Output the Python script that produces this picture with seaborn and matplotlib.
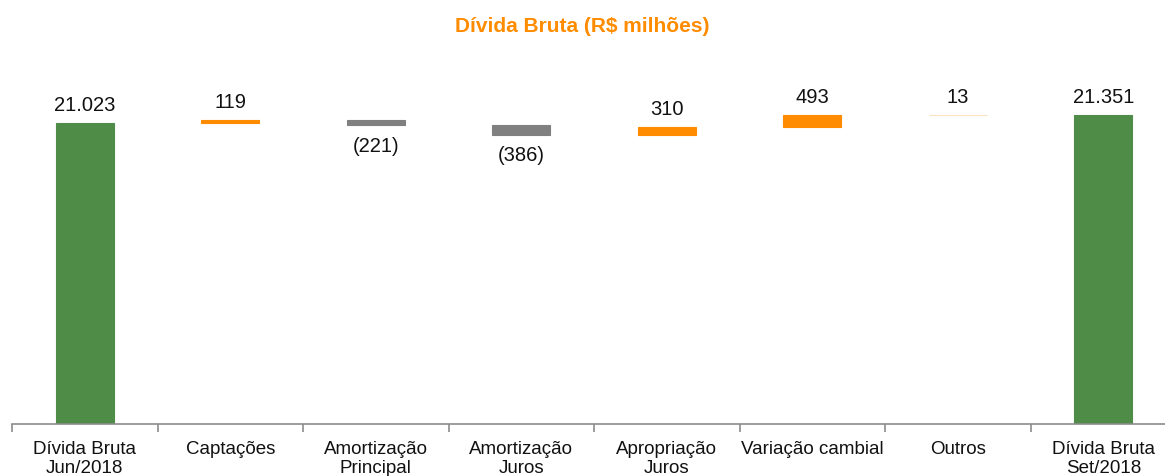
import numpy as np
import pandas as pd
import matplotlib
matplotlib.use("Agg")
import matplotlib.pyplot as plt
import seaborn as sns
from matplotlib.ticker import FixedLocator

# Dados do gráfico (R$ milhões)
categorias = ["Dívida Bruta\nJun/2018", "Captações", "Amortização\nPrincipal",
              "Amortização\nJuros", "Apropriação\nJuros", "Variação cambial",
              "Outros", "Dívida Bruta\nSet/2018"]
variacoes = [21023, 119, -221, -386, 310, 493, 13, 21351]
tipos = ["total", "aumento", "reducao", "reducao", "aumento", "aumento", "outros", "total"]

cores = {"total": "#4E8C48", "aumento": "#FF8C00", "reducao": "#808080", "outros": "#FBE3C2"}

def fmt(v):
    s = f"{abs(v):,}".replace(",", ".")
    return f"({s})" if v < 0 else s

# Monta inicio/fim de cada barra da cascata
inicio, fim = [], []
acum = 0
for v, t in zip(variacoes, tipos):
    if t == "total":
        inicio.append(0)
        fim.append(v)
        acum = v
    else:
        inicio.append(acum)
        acum += v
        fim.append(acum)

df = pd.DataFrame({"categoria": categorias, "inicio": inicio, "fim": fim, "tipo": tipos,
                   "valor": variacoes})
df["base"] = df[["inicio", "fim"]].min(axis=1)
df["altura"] = (df["fim"] - df["inicio"]).abs()

sns.set_style("white")
plt.rcParams["font.family"] = ["Liberation Sans", "DejaVu Sans"]

fig = plt.figure(figsize=(11.65, 4.76), dpi=100)
ax = fig.add_axes([12 / 1165, 52 / 476, 1164 / 1165, 364 / 476])

sns.barplot(data=df, x="categoria", y="altura", bottom=df["base"].values,
            color="#4E8C48", width=0.4, ax=ax, linewidth=0.8, errorbar=None)
# cores por tipo de barra
for p, t in zip(ax.patches, df["tipo"]):
    p.set_facecolor(cores[t])
    p.set_edgecolor(cores[t])
    p.set_alpha(1)

ax.set_ylim(8682, 23606)
ax.set_xlim(-0.5, len(categorias) - 0.5)

for i, row in df.iterrows():
    if row["valor"] >= 0:
        ax.annotate(fmt(row["valor"]), (i, max(row["inicio"], row["fim"])),
                    xytext=(0, 6), textcoords="offset points", ha="center", va="bottom",
                    fontsize=14.5, color="#111111")
    else:
        ax.annotate(fmt(row["valor"]), (i, min(row["inicio"], row["fim"])),
                    xytext=(0, -8), textcoords="offset points", ha="center", va="top",
                    fontsize=14.5, color="#111111")

for s in ["top", "right", "left"]:
    ax.spines[s].set_visible(False)
ax.spines["bottom"].set_color("#8C8C8C")
ax.spines["bottom"].set_linewidth(1.2)
ax.set_yticks([])
ax.set_xlabel("")
ax.set_ylabel("")
ax.tick_params(axis="x", which="major", length=0, pad=12, labelsize=13.5, labelcolor="#111111")
ax.xaxis.set_minor_locator(FixedLocator(np.arange(-0.5, len(categorias), 1)))
ax.tick_params(axis="x", which="minor", bottom=True, length=6, width=1.2,
               color="#8C8C8C", direction="out")

fig.text(0.5, 1 - 26 / 476, "Dívida Bruta (R$ milhões)", ha="center", va="center",
         fontsize=15, fontweight="bold", color="#FF8C00")

fig.savefig("out.png", dpi=100)
